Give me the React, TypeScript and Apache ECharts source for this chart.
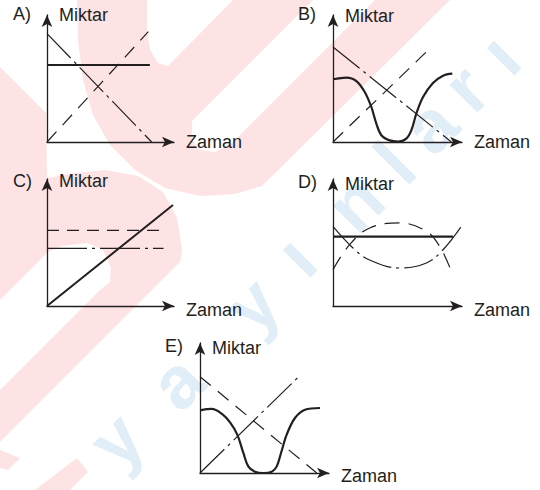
import React, { useEffect, useRef } from 'react';
import * as echarts from 'echarts';

// ---------- labels ----------
const panelLabels = ['A)', 'B)', 'C)', 'D)', 'E)'];
const xAxisName = 'Zaman';
const yAxisName = 'Miktar';

// ---------- data (x: Zaman 0..10, y: Miktar 0..10) ----------
// A
const aSolid = [[0, 6.06], [8.1, 6.06]];
const aDashed = [[0, 0], [7.98, 8.69]];
const aDashDot = [[0, 8.54], [8.24, 0]];
// B
const bCurve = [[0, 4.94], [1.04, 5.07], [1.81, 4.8], [2.46, 3.94], [2.97, 2.76], [3.36, 1.45], [3.75, 0.53], [4.39, 0.13], [5.04, 0.04], [5.68, 0.27], [6.07, 0.92], [6.46, 2.24], [6.98, 3.54], [7.75, 4.64], [8.53, 5.22], [9.25, 5.38]];
const bDashed = [[0, 0], [7.63, 7.48]];
const bDashDot = [[0, 7.48], [9.18, 0]];
// C
const cSolid = [[0, 0], [9.92, 7.95]];
const cDashed = [[0, 5.96], [9.18, 5.96]];
const cDashDot = [[0, 4.54], [9.18, 4.54]];
// D
const dSolid = [[0, 5.46], [9.3, 5.46]];
const dDashed = [[0, 2.86], [1.29, 4.83], [2.84, 6.14], [5.17, 6.54], [7.24, 5.88], [8.27, 4.69], [9.18, 2.72]];
const dDashDot = [[0, 6.27], [1.55, 4.57], [2.84, 3.62], [5.17, 2.99], [7.24, 3.39], [8.53, 4.43], [9.95, 6.27]];
// E
const eCurve = [[0, 4.82], [0.91, 4.93], [1.68, 4.56], [2.33, 3.89], [2.89, 2.95], [3.36, 1.54], [3.74, 0.51], [4.26, 0.1], [4.91, 0], [5.56, 0.1], [5.95, 0.51], [6.28, 1.54], [6.72, 2.95], [7.36, 4.23], [8.14, 4.87], [9.3, 5.0]];
const eDashed = [[0, 7.41], [9.05, 0]];
const eDashDot = [[0, 0], [7.55, 7.31]];

// watermark text
const watermarkLetters = ['y', 'a', 'y', 'ı', 'n', 'l', 'a', 'r', 'ı'];

const INK = '#231f20';
const FONT = '"Liberation Sans", Arial, Helvetica, sans-serif';
const PINK = '#fde3e4';
const BLUE = '#e1eef8';

function buildOption() {
  const grids = [
    { left: 47, top: 15, width: 127, height: 127 },
    { left: 333, top: 15, width: 129, height: 127 },
    { left: 47, top: 179, width: 127, height: 127 },
    { left: 333, top: 179, width: 129, height: 127 },
    { left: 200, top: 343, width: 129, height: 130 },
  ];
  const yNameGaps = [0, -1, -2, -5, -5];
  // vertical shift of the "Zaman" name below its axis (px)
  const xNameShift = [0, 0, 4, 4, 3];

  const axisLine = {
    show: true,
    onZero: false,
    symbol: ['none', 'arrow'],
    symbolSize: [8, 12],
    lineStyle: { color: INK, width: 1.3 },
  };

  const xAxis = grids.map((_, i) => ({
    type: 'value', gridIndex: i, min: 0, max: 10,
    axisLine, axisTick: { show: false }, axisLabel: { show: false }, splitLine: { show: false },
    name: xAxisName, nameLocation: 'end', nameGap: 12,
    nameTextStyle: xNameShift[i] === 0
      ? { color: INK, fontSize: 18, fontFamily: FONT, align: 'left', verticalAlign: 'middle' }
      : { color: INK, fontSize: 18, fontFamily: FONT, align: 'left', verticalAlign: 'top', lineHeight: xNameShift[i] * 2 },
  }));
  const yAxis = grids.map((_, i) => ({
    type: 'value', gridIndex: i, min: 0, max: 10,
    axisLine, axisTick: { show: false }, axisLabel: { show: false }, splitLine: { show: false },
    name: yAxisName, nameLocation: 'end', nameGap: yNameGaps[i],
    nameTextStyle: { color: INK, fontSize: 18, fontFamily: FONT, align: 'left', verticalAlign: 'middle', padding: [0, 0, 0, 12] },
  }));

  const DASH = [14, 9];
  const DASHDOT = [34, 5, 3, 5];
  const mk = (name: string, g: number, data: number[][], type: any, width: number, smooth: any = false) => ({
    name, type: 'line', xAxisIndex: g, yAxisIndex: g, data, smooth,
    symbol: 'none', showSymbol: false, silent: true,
    lineStyle: { color: INK, width, type, cap: 'butt' },
  });

  const series = [
    mk('A solid', 0, aSolid, 'solid', 2),
    mk('A dashed', 0, aDashed, DASH, 1.2),
    mk('A dash-dot', 0, aDashDot, DASHDOT, 1.2),
    mk('B curve', 1, bCurve, 'solid', 2.2, 0.35),
    mk('B dashed', 1, bDashed, DASH, 1.2),
    mk('B dash-dot', 1, bDashDot, DASHDOT, 1.2),
    mk('C solid', 2, cSolid, 'solid', 2),
    mk('C dashed', 2, cDashed, [12, 8], 1.2),
    mk('C dash-dot', 2, cDashDot, [40, 5, 3, 5], 1.2),
    mk('D solid', 3, dSolid, 'solid', 2.2),
    mk('D dashed', 3, dDashed, [15, 9], 1.2, 0.4),
    mk('D dash-dot', 3, dDashDot, [30, 5, 3, 5], 1.2, 0.4),
    mk('E curve', 4, eCurve, 'solid', 2.2, 0.35),
    mk('E dashed', 4, eDashed, DASH, 1.2),
    mk('E dash-dot', 4, eDashDot, DASHDOT, 1.2),
  ];

  // ---- decorative watermark ----
  const poly = (points: number[][], fill: string, z: number) => ({
    type: 'polygon', z, silent: true, shape: { points }, style: { fill },
  });
  const wm: any[] = [
    poly([[77, 0], [78, 40], [83, 80], [93, 115], [110, 145], [135, 170], [165, 188], [200, 196], [235, 194], [262, 186], [450, 0]], PINK, -10),
    poly([[147, 0], [147, 30], [150, 50], [158, 63], [168, 66], [233, 0]], '#ffffff', -9),
    poly([[313, 0], [375, 0], [232, 143], [215, 152], [200, 150], [192, 140], [192, 121]], '#ffffff', -9),
    poly([[0, 67], [46, 113], [47, 178], [75, 173], [105, 170], [138, 176], [163, 192], [177, 218], [182, 250], [180, 262], [0, 442]], PINK, -10),
    poly([[0, 300], [48, 252], [62, 246], [87, 243], [103, 250], [111, 268], [110, 282], [100, 290], [0, 390]], '#ffffff', -9),
    poly([[0, 450], [20, 458], [8, 470], [0, 468]], PINK, -10),
    poly([[35, 490], [77, 458], [88, 472], [70, 490]], PINK, -10),
  ];
  const letterPos = [[116, 440], [177, 382], [252, 305], [296, 256], [355, 203], [395, 163], [430, 126], [466, 88], [500, 54]];
  watermarkLetters.forEach((ch, i) => {
    wm.push({
      type: 'text', z: -8, silent: true, x: letterPos[i][0], y: letterPos[i][1], rotation: Math.PI / 4,
      style: { text: ch, font: `bold 74px ${FONT}`, fill: BLUE, align: 'center', verticalAlign: 'middle' },
    });
  });

  const labelPos = [[13, 14], [298, 14], [13, 180.5], [298, 182], [165, 346]];
  const labels = panelLabels.map((t, i) => ({
    type: 'text', z: 10, x: labelPos[i][0], y: labelPos[i][1],
    style: { text: t, font: `18px ${FONT}`, fill: INK, align: 'left', verticalAlign: 'middle' },
  }));

  return {
    animation: false,
    backgroundColor: '#ffffff',
    grid: grids,
    xAxis,
    yAxis,
    series,
    graphic: { elements: [...wm, ...labels] },
  };
}

export default function App() {
  const ref = useRef<HTMLDivElement>(null);
  useEffect(() => {
    document.body.style.margin = '0';
    if (!ref.current) return;
    const chart = echarts.init(ref.current, undefined, { renderer: 'svg' });
    chart.setOption(buildOption() as any);
    return () => chart.dispose();
  }, []);
  return <div ref={ref} style={{ width: 540, height: 490 }} />;
}
